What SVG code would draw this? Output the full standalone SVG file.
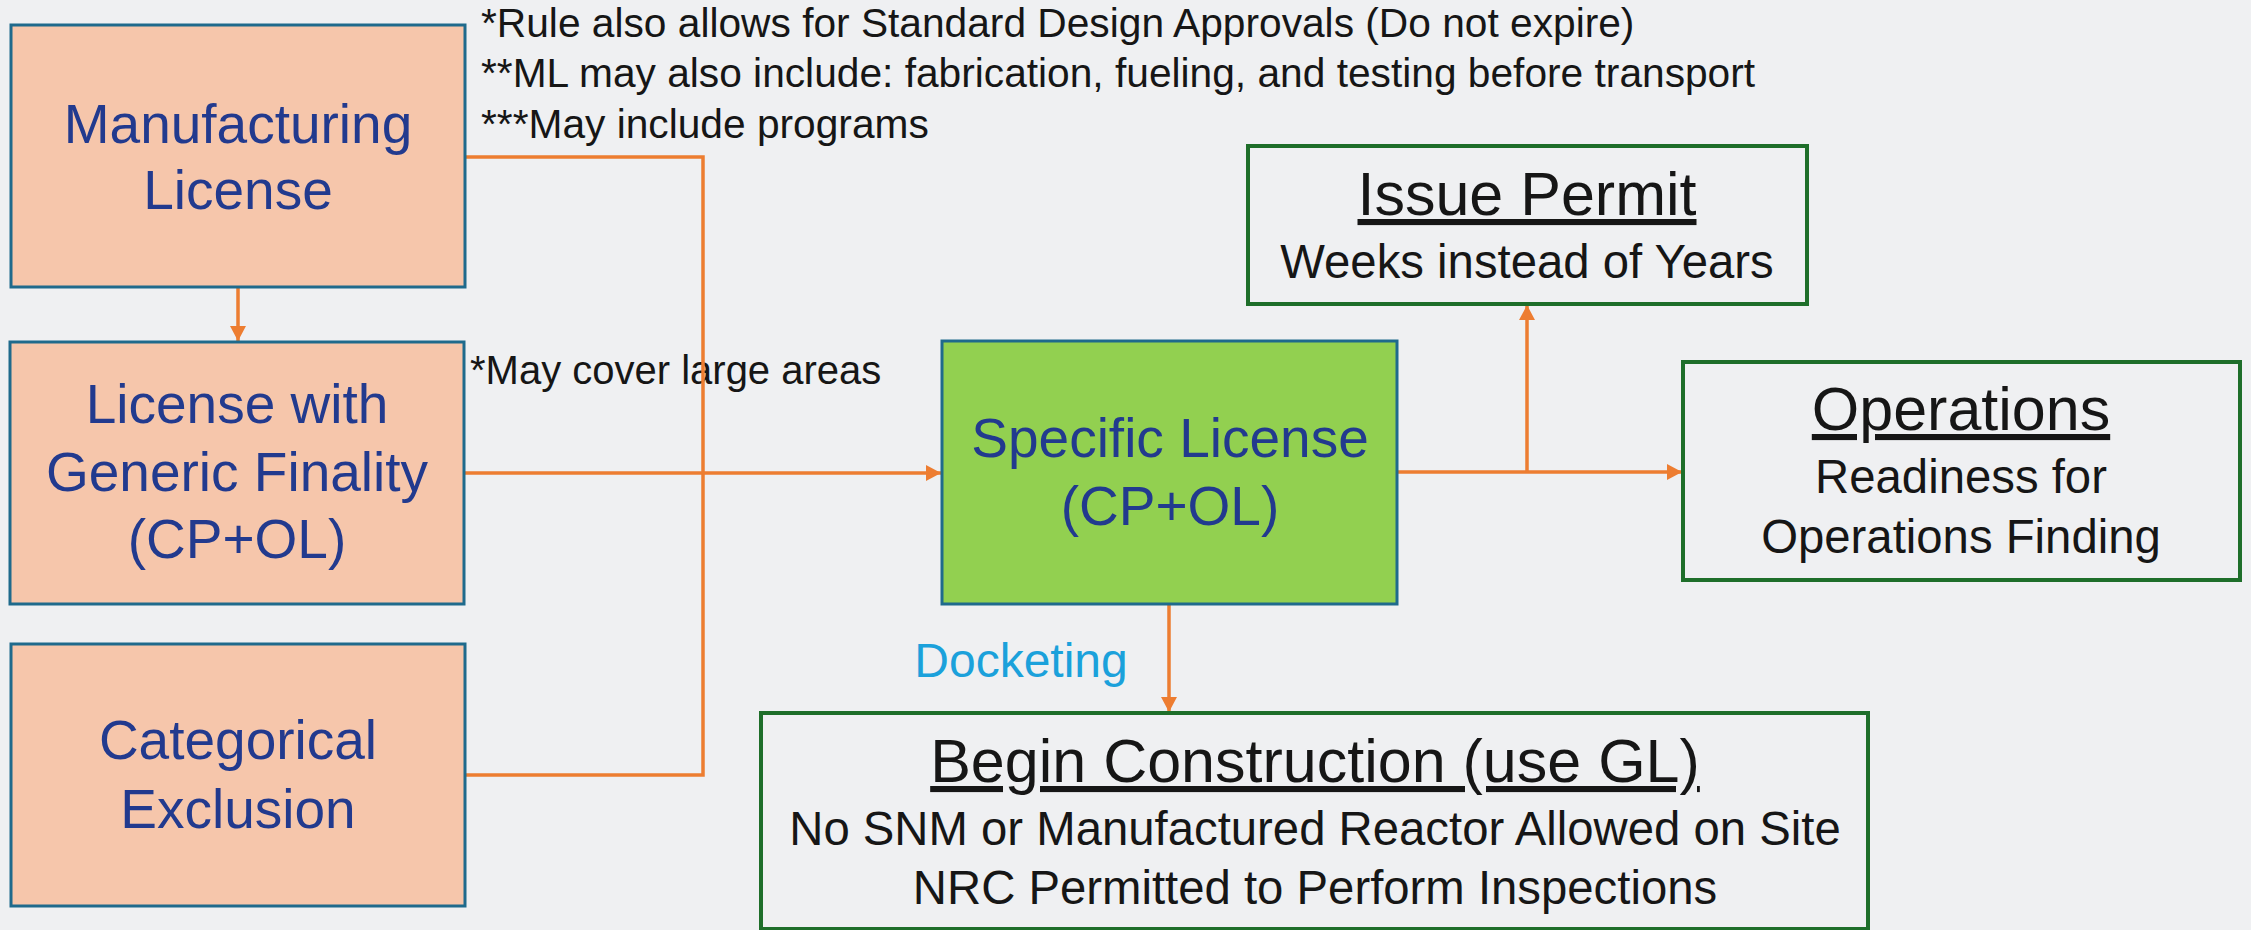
<svg xmlns="http://www.w3.org/2000/svg" width="2251" height="930" viewBox="0 0 2251 930">
<style>
.bg{fill:#EFF0F2}
.peach{fill:#F6C6AB;stroke:#1F6A8C;stroke-width:3}
.green{fill:#92D050;stroke:#1F6A8C;stroke-width:3}
.out{fill:none;stroke:#1E6E2A;stroke-width:4}
.t{font-family:"Liberation Sans",Arial,sans-serif;text-anchor:middle}
.blue{fill:#223A8E;font-size:55px}
.head{fill:#161616;font-size:61px;text-decoration:underline}
.sub{fill:#161616;font-size:47.3px}
.note{font-family:"Liberation Sans",Arial,sans-serif;fill:#161616;font-size:40.7px}
.con{fill:none;stroke:#ED7D31;stroke-width:3.5}
</style>
<defs>
<marker id="ah" markerUnits="userSpaceOnUse" markerWidth="16" markerHeight="16" refX="15" refY="8" orient="auto">
<path d="M0,0 L15,8 L0,16 z" fill="#ED7D31"/>
</marker>
</defs>
<rect class="bg" x="0" y="0" width="2251" height="930"/>

<g id="notes">
<text class="note" x="481" y="37">*Rule also allows for Standard Design Approvals (Do not expire)</text>
<text class="note" x="481" y="87">**ML may also include: fabrication, fueling, and testing before transport</text>
<text class="note" x="481" y="138">***May include programs</text>
<text class="note" x="470" y="384" style="font-size:40px">*May cover large areas</text>
</g>

<g id="connectors">
<path class="con" d="M465,157 H703 V775 H465"/>
<line class="con" x1="238" y1="287" x2="238" y2="341" marker-end="url(#ah)"/>
<line class="con" x1="464" y1="473" x2="941" y2="473" marker-end="url(#ah)"/>
<line class="con" x1="1397" y1="472" x2="1682" y2="472" marker-end="url(#ah)"/>
<line class="con" x1="1527" y1="472" x2="1527" y2="305" marker-end="url(#ah)"/>
<line class="con" x1="1169" y1="604" x2="1169" y2="712" marker-end="url(#ah)"/>
<text class="t" x="1021" y="677" style="fill:#1BA1DB;font-size:48px">Docketing</text>
</g>

<g id="manufacturing-license">
<rect class="peach" x="11" y="25" width="454" height="262"/>
<text class="t blue" x="238" y="143">Manufacturing</text>
<text class="t blue" x="238" y="209">License</text>
</g>

<g id="generic-finality">
<rect class="peach" x="10" y="342" width="454" height="262"/>
<text class="t blue" x="237" y="423">License with</text>
<text class="t blue" x="237" y="491">Generic Finality</text>
<text class="t blue" x="237" y="558">(CP+OL)</text>
</g>

<g id="categorical-exclusion">
<rect class="peach" x="11" y="644" width="454" height="262"/>
<text class="t blue" x="238" y="759">Categorical</text>
<text class="t blue" x="238" y="828">Exclusion</text>
</g>

<g id="specific-license">
<rect class="green" x="942" y="341" width="455" height="263"/>
<text class="t blue" x="1170" y="457">Specific License</text>
<text class="t blue" x="1170" y="525">(CP+OL)</text>
</g>

<g id="issue-permit">
<rect class="out" x="1248" y="146" width="559" height="158"/>
<text class="t head" x="1527" y="215">Issue Permit</text>
<text class="t sub" x="1527" y="278">Weeks instead of Years</text>
</g>

<g id="operations">
<rect class="out" x="1683" y="362" width="557" height="218"/>
<text class="t head" x="1961" y="430">Operations</text>
<text class="t sub" x="1961" y="493">Readiness for</text>
<text class="t sub" x="1961" y="553">Operations Finding</text>
</g>

<g id="begin-construction">
<rect class="out" x="761" y="713" width="1107" height="216"/>
<text class="t head" x="1315" y="782">Begin Construction (use GL)</text>
<text class="t sub" x="1315" y="845">No SNM or Manufactured Reactor Allowed on Site</text>
<text class="t sub" x="1315" y="904">NRC Permitted to Perform Inspections</text>
</g>
</svg>
